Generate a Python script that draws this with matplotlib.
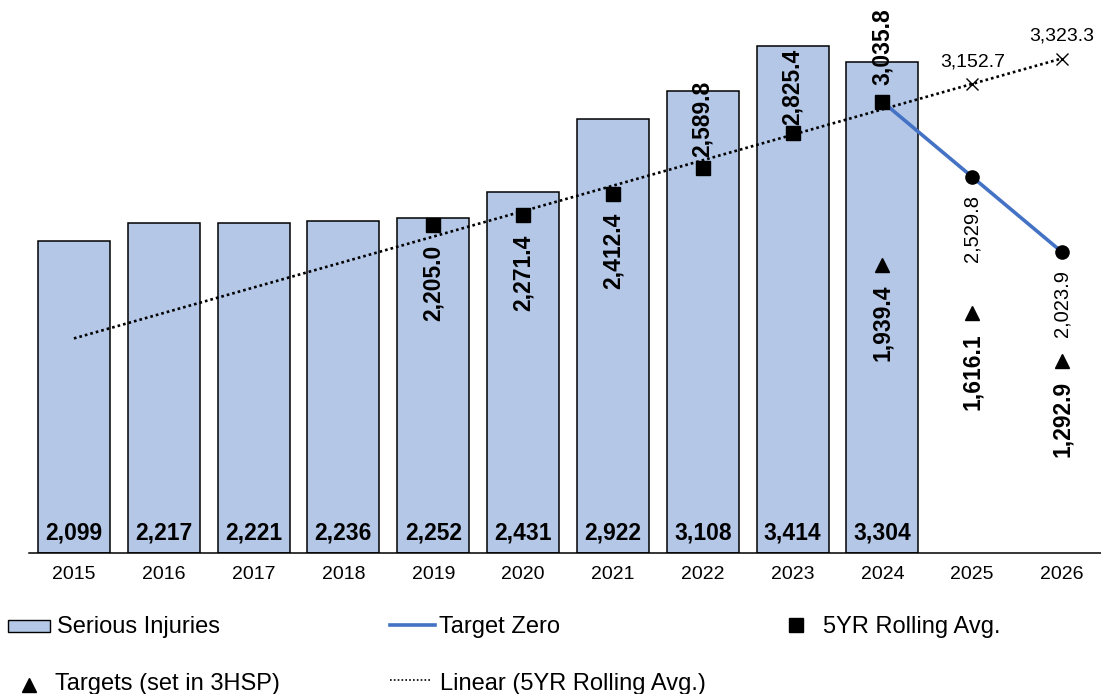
import numpy as np
import matplotlib
matplotlib.use("Agg")
import matplotlib.pyplot as plt
from matplotlib.patches import Rectangle
from matplotlib.lines import Line2D

plt.rcParams['font.family'] = ['Liberation Sans', 'DejaVu Sans']

# ---------------- data ----------------
years = ['2015', '2016', '2017', '2018', '2019', '2020',
         '2021', '2022', '2023', '2024', '2025', '2026']
injury_years = ['2015', '2016', '2017', '2018', '2019',
                '2020', '2021', '2022', '2023', '2024']
serious_injuries = [2099, 2217, 2221, 2236, 2252, 2431, 2922, 3108, 3414, 3304]

rolling_years = ['2019', '2020', '2021', '2022', '2023', '2024']
rolling_avg = [2205.0, 2271.4, 2412.4, 2589.8, 2825.4, 3035.8]

target_zero_years = ['2024', '2025', '2026']
target_zero = [3035.8, 2529.8, 2023.9]

target_years = ['2024', '2025', '2026']
targets_3hsp = [1939.4, 1616.1, 1292.9]

trend_point_years = ['2025', '2026']
trend_point_values = [3152.7, 3323.3]

# ---------------- style ----------------
BAR_COLOR = '#B4C7E7'
LINE_BLUE = '#4472C4'
W, H = 1101, 694
BOLD_FS = 16.5
rolling_label_offsets = [-14, -14, -13, 8, 6, 12]   # points (neg = below)

def xi(labels):
    return [years.index(l) for l in labels]

fig = plt.figure(figsize=(W / 100, H / 100), dpi=100)
ax = fig.add_axes([29 / W, (H - 553) / H, 1078 / W, 550 / H])

# bars
bx = xi(injury_years)
ax.bar(bx, serious_injuries, width=0.8, color=BAR_COLOR,
       edgecolor='black', linewidth=1.1, zorder=2)
for x, v in zip(bx, serious_injuries):
    ax.annotate(f'{v:,}', (x, 0), xytext=(0, 9.5), textcoords='offset points',
                ha='center', va='baseline', fontsize=BOLD_FS, fontweight='bold',
                zorder=6)

# linear trendline of rolling average (extended over all categories)
rx = xi(rolling_years)
coef = np.polyfit(rx, rolling_avg, 1)
tx = np.array([0, len(years) - 1])
ax.plot(tx, np.polyval(coef, tx), color='black', lw=1.9,
        linestyle=(0, (1, 1.15)), zorder=3)
px_ = xi(trend_point_years)
ax.plot(px_, trend_point_values, 'x', color='black', ms=8, mew=1, zorder=4)
for x, v in zip(px_, trend_point_values):
    ax.annotate(f'{v:,.1f}', (x, v), xytext=(0, 13), textcoords='offset points',
                ha='center', va='baseline', fontsize=14)

# target zero
zx = xi(target_zero_years)
ax.plot(zx, target_zero, color=LINE_BLUE, lw=2.6, zorder=4)
ax.plot(zx[1:], target_zero[1:], 'o', color='black', ms=9.5, zorder=5)
for x, v in zip(zx[1:], target_zero[1:]):
    ax.annotate(f'{v:,.1f}', (x, v), xytext=(0, -13), textcoords='offset points',
                ha='center', va='top', rotation=90, fontsize=14.5)

# rolling average squares
ax.plot(rx, rolling_avg, 's', color='black', ms=10, zorder=5)
for x, v, off in zip(rx, rolling_avg, rolling_label_offsets):
    ax.annotate(f'{v:,.1f}', (x, v), xytext=(0, off), textcoords='offset points',
                ha='center', va='top' if off < 0 else 'bottom', rotation=90,
                fontsize=BOLD_FS, fontweight='bold', zorder=6)

# targets (triangles)
trx = xi(target_years)
ax.plot(trx, targets_3hsp, '^', color='black', ms=9.5, zorder=5)
for x, v in zip(trx, targets_3hsp):
    ax.annotate(f'{v:,.1f}', (x, v), xytext=(0, -14.5), textcoords='offset points',
                ha='center', va='top', rotation=90, fontsize=BOLD_FS,
                fontweight='bold', zorder=6)

# axes styling
ax.set_xlim(-0.5, len(years) - 0.5)
ax.set_ylim(0, 3700)
ax.set_xticks(range(len(years)))
ax.set_xticklabels(years)
ax.tick_params(axis='x', length=0, pad=9.5, labelsize=14)
ax.yaxis.set_visible(False)
for s in ['left', 'right', 'top']:
    ax.spines[s].set_visible(False)
ax.spines['bottom'].set_linewidth(1.1)
ax.patch.set_alpha(0)

# ---------------- manual legend ----------------
def fx(x):
    return x / W

def fy(y):
    return 1 - y / H

LFS = 17
row1, row2 = 632.5, 690
fig.patches.append(Rectangle((fx(8), fy(632)), 42 / W, 12 / H,
                             transform=fig.transFigure, facecolor=BAR_COLOR,
                             edgecolor='black', lw=1))
fig.text(fx(57), fy(row1), 'Serious Injuries', fontsize=LFS, va='baseline')

fig.add_artist(Line2D([fx(390), fx(435)], [fy(625), fy(625)], color=LINE_BLUE,
                      lw=2.6, transform=fig.transFigure))
fig.text(fx(439), fy(row1), 'Target Zero', fontsize=LFS, va='baseline')

fig.add_artist(Line2D([fx(796)], [fy(625)], marker='s', ms=10, color='black',
                      linestyle='none', transform=fig.transFigure))
fig.text(fx(823), fy(row1), '5YR Rolling Avg.', fontsize=LFS, va='baseline')

fig.add_artist(Line2D([fx(28.5)], [fy(685)], marker='^', ms=10, color='black',
                      linestyle='none', transform=fig.transFigure))
fig.text(fx(55), fy(row2), 'Targets (set in 3HSP)', fontsize=LFS, va='baseline')

fig.add_artist(Line2D([fx(390), fx(432)], [fy(680), fy(680)], color='black',
                      lw=1.2, linestyle=(0, (1, 1.3)), transform=fig.transFigure))
fig.text(fx(440), fy(row2), 'Linear (5YR Rolling Avg.)', fontsize=LFS,
         va='baseline')

fig.savefig('out.png', dpi=100)
